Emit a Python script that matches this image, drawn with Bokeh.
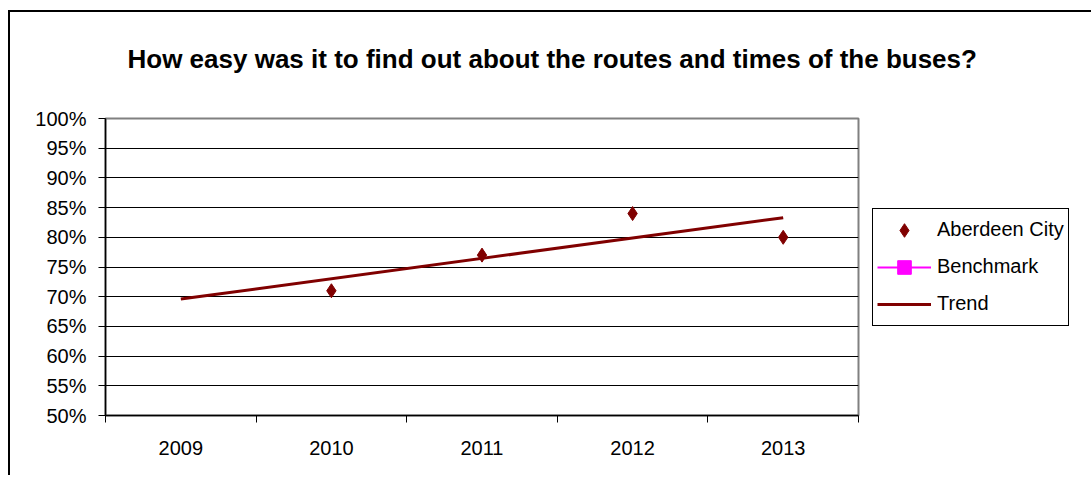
from bokeh.plotting import figure
from bokeh.models import (Range1d, FixedTicker, Legend, LegendItem, InlineStyleSheet)
from bokeh.embed import file_html
from bokeh.resources import INLINE

nan = float("nan")

# ---- data ----
title_text = "How easy was it to find out about the routes and times of the buses?"
categories = ["2009", "2010", "2011", "2012", "2013"]
aberdeen_years = ["2010", "2011", "2012", "2013"]
aberdeen_values = [0.71, 0.77, 0.84, 0.80]
benchmark_years = ["2009", "2010", "2011", "2012", "2013"]
benchmark_values = [nan, nan, nan, nan, nan]   # no benchmark values shown
trend_years = ["2009", "2013"]
trend_values = [0.696, 0.833]
y_ticks = [0.50, 0.55, 0.60, 0.65, 0.70, 0.75, 0.80, 0.85, 0.90, 0.95, 1.00]
y_tick_labels = ["50%", "55%", "60%", "65%", "70%", "75%", "80%", "85%", "90%", "95%", "100%"]


def pos(years):
    return [categories.index(y) + 0.5 for y in years]


FONT = "Liberation Sans"

p = figure(frame_width=753, frame_height=297, output_backend="svg", toolbar_location=None,
           x_range=Range1d(0, len(categories)), y_range=Range1d(y_ticks[0], y_ticks[-1]),
           min_border_left=105, min_border_right=224, min_border_top=118, min_border_bottom=60)
p.background_fill_color = "white"
p.border_fill_color = "white"
p.outline_line_color = "#808080"
p.outline_line_width = 2

# title
p.title.text = title_text
p.title.align = "left"
p.title.vertical_align = "top"
p.title.offset = 22
p.title.standoff = 85
p.title.text_font = FONT
p.title.text_font_size = "26px"
p.title.text_font_style = "bold"
p.title.text_color = "black"

# x axis: labels at category centres, ticks at boundaries
centers = [i + 0.5 for i in range(len(categories))]
p.xaxis.ticker = FixedTicker(ticks=centers, minor_ticks=list(range(len(categories) + 1)))
p.xaxis.major_label_overrides = {c: lab for c, lab in zip(centers, categories)}
p.xaxis.major_tick_out = 0
p.xaxis.major_tick_in = 0
p.xaxis.minor_tick_out = 7
p.xaxis.minor_tick_in = 0
p.xaxis.minor_tick_line_color = "black"
p.xaxis.axis_line_color = "black"
p.xaxis.axis_line_width = 1.5
p.xaxis.major_label_standoff = 18
p.xaxis.major_label_text_font = FONT
p.xaxis.major_label_text_font_size = "20px"
p.xaxis.major_label_text_color = "black"

p.yaxis.ticker = FixedTicker(ticks=y_ticks, minor_ticks=[])
p.yaxis.major_label_overrides = {t: lab for t, lab in zip(y_ticks, y_tick_labels)}
p.yaxis.major_tick_out = 7
p.yaxis.major_tick_in = 0
p.yaxis.major_tick_line_color = "black"
p.yaxis.axis_line_color = "black"
p.yaxis.axis_line_width = 1.5
p.yaxis.major_label_standoff = 12
p.yaxis.major_label_text_font = FONT
p.yaxis.major_label_text_font_size = "20px"
p.yaxis.major_label_text_color = "black"

p.xgrid.visible = False
p.ygrid.ticker = FixedTicker(ticks=y_ticks[1:-1])
p.ygrid.grid_line_color = "black"
p.ygrid.grid_line_width = 1.2

# glyphs
r_tr = p.line(pos(trend_years), trend_values, color="#800000", line_width=3)
r_bl = p.line(pos(benchmark_years), benchmark_values, color="#FF00FF", line_width=2)
r_bs = p.scatter(pos(benchmark_years), benchmark_values, marker="square", size=10, color="#FF00FF")
r_ab = p.scatter(pos(aberdeen_years), aberdeen_values, marker="diamond", size=14, color="#800000")

legend = Legend(items=[LegendItem(label="Aberdeen City", renderers=[r_ab]),
                       LegendItem(label="Benchmark", renderers=[r_bl, r_bs]),
                       LegendItem(label="Trend", renderers=[r_tr])],
                location="center_left", orientation="vertical",
                border_line_color="black", border_line_width=1.5, border_line_alpha=1,
                background_fill_color="white", background_fill_alpha=1,
                padding=4, spacing=3, margin=14,
                glyph_width=54, glyph_height=34, label_height=34, label_standoff=6,
                label_text_font=FONT, label_text_font_size="20px", label_text_color="black")
p.add_layout(legend, "right")

# outer chart border (left and top edges visible in the reference)
p.stylesheets = [InlineStyleSheet(css="""
:host::after {
  content: "";
  position: absolute;
  left: 8px; top: 10px; right: 0px; bottom: 0px;
  border-left: 2.5px solid black;
  border-top: 2.5px solid black;
  pointer-events: none;
}
""")]

open("out.html", "w").write(file_html(p, INLINE))
